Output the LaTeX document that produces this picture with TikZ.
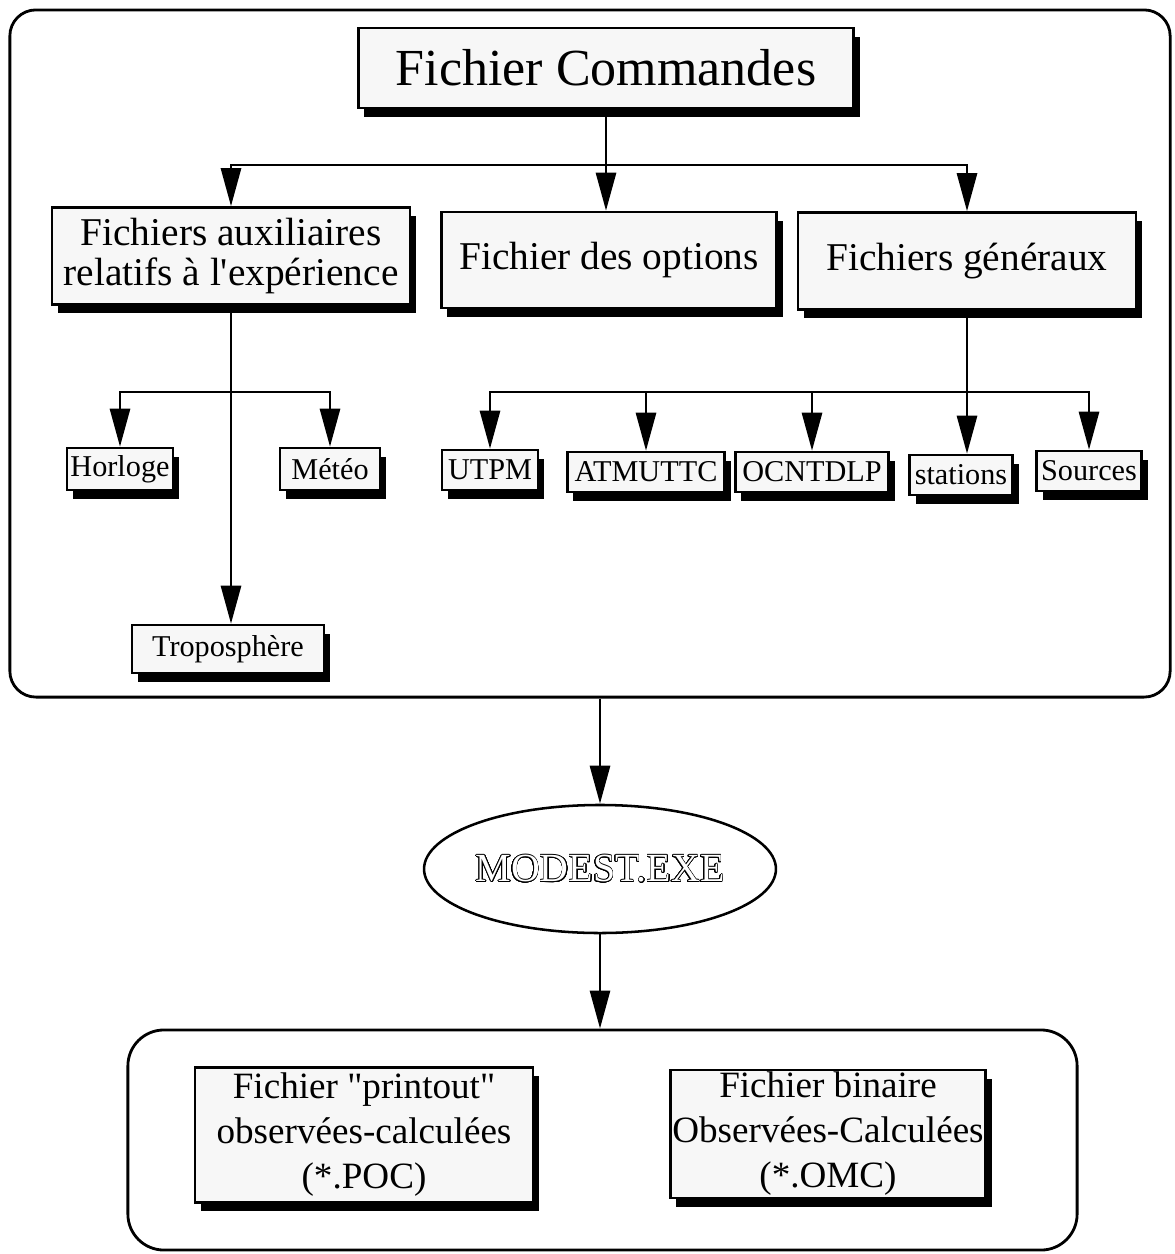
\documentclass[tikz,border=0pt]{standalone}
\usepackage{fontspec}
\setmainfont{Liberation Serif}[Ligatures=TeXOff]
\usepackage{contour}
\contourlength{0.45pt}
\contournumber{32}
\usepackage{tikz}
\usetikzlibrary{arrows.meta,shadows,shapes.geometric}

\begin{document}
\begin{tikzpicture}[x=0.025cm,y=-0.025cm,
  boite/.style={draw,line width=1.8pt,fill=black!3,inner sep=0pt,align=center,
    drop shadow={shadow xshift=0.15cm,shadow yshift=-0.22cm,fill=black,opacity=1}},
  grande/.style={boite,font=\fontsize{28}{29}\selectfont},
  petite/.style={boite,font=\fontsize{21.5}{26}\selectfont},
  fleche/.style={line width=2pt,-{Triangle[length=0.95cm,width=0.5cm]}},
  trait/.style={line width=2pt}]
\useasboundingbox (0,0) rectangle (1175,1254);

\node[draw,line width=2pt,rounded corners=0.65cm,minimum width=29cm,minimum height=17.175cm] (cadre) at (590,353.5) {};

\node[boite,font=\fontsize{37}{44}\selectfont,minimum width=12.375cm,minimum height=2cm] (cmd) at (606,68) {Fichier Commandes};

\node[grande,minimum width=8.95cm,minimum height=2.425cm] (aux) at (231,256) {Fichiers auxiliaires\\relatifs à l'expérience};
\node[grande,minimum width=8.375cm,minimum height=2.4cm] (opt) at (609,260) {Fichier des options};
\node[grande,minimum width=8.45cm,minimum height=2.425cm] (gen) at (967,261) {Fichiers généraux};

\node[petite,minimum width=2.65cm,minimum height=1.05cm] (horloge) at (120,469) {Horloge};
\node[petite,minimum width=2.5cm,minimum height=1.05cm] (meteo) at (330,469) {Météo};
\node[petite,minimum width=4.8cm,minimum height=1.2cm] (tropo) at (228,649) {Troposphère};

\node[petite,minimum width=2.4cm,minimum height=1cm] (utpm) at (490,470) {UTPM};
\node[petite,minimum width=3.925cm,minimum height=1cm] (atmuttc) at (646,472) {ATMUTTC};
\node[petite,minimum width=3.825cm,minimum height=1cm] (ocntdlp) at (812,472) {OCNTDLP};
\node[petite,minimum width=2.575cm,minimum height=1cm] (stations) at (961,475) {stations};
\node[petite,minimum width=2.625cm,minimum height=1cm] (sources) at (1089,471) {Sources};

\node[draw,ellipse,line width=1.8pt,minimum width=8.1cm,minimum height=3.2cm,inner sep=0pt,
  font=\fontsize{28.4}{30}\selectfont] (prog) at (600,869) {\textcolor{white}{\contour{black}{MODEST.EXE}}};

\node[draw,line width=2pt,rounded corners=0.9cm,minimum width=23.725cm,minimum height=5.5cm] (sorties) at (602.5,1140) {};
\node[boite,font=\fontsize{26.4}{32}\selectfont,minimum width=8.45cm,minimum height=3.375cm] (poc) at (364,1135) {Fichier "printout"\\observées-calculées\\(*.POC)};
\node[boite,font=\fontsize{26.4}{32}\selectfont,minimum width=7.875cm,minimum height=3.2cm] (omc) at (828,1134) {Fichier binaire\\Observées-Calculées\\(*.OMC)};

\coordinate (b1) at (cmd.south |- 0,165);
\draw[trait] (cmd.south) -- (b1);
\draw[fleche] (b1) -| (aux.north);
\draw[fleche] (b1) -- (b1 |- opt.north);
\draw[fleche] (b1) -| (gen.north);

\coordinate (b2) at (aux.south |- 0,392);
\draw[fleche] (aux.south) -- (aux.south |- tropo.north);
\draw[fleche] (b2) -| (horloge.north);
\draw[fleche] (b2) -| (meteo.north);

\coordinate (b3) at (gen.south |- 0,392);
\draw[trait] (gen.south) -- (b3);
\draw[fleche] (b3) -| (utpm.north);
\draw[fleche] (b3) -| (atmuttc.north);
\draw[fleche] (b3) -| (ocntdlp.north);
\draw[fleche] (b3) -- (b3 |- stations.north);
\draw[fleche] (b3) -| (sources.north);

\draw[fleche] (prog.north |- cadre.south) -- (prog.north);
\draw[fleche] (prog.south) -- (prog.south |- sorties.north);
\end{tikzpicture}
\end{document}
